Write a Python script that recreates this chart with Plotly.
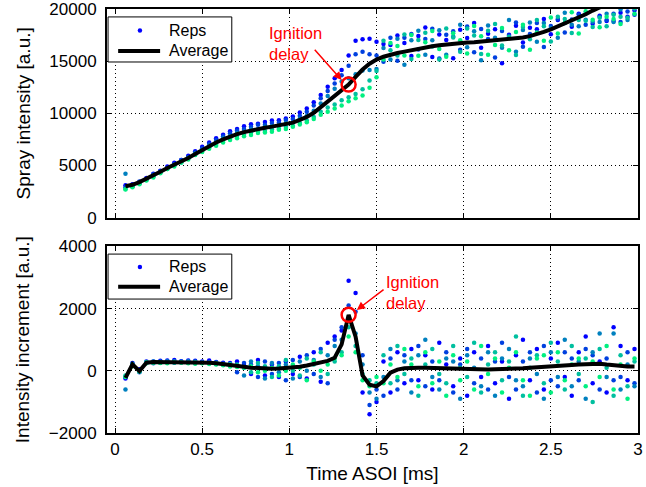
import numpy as np
import plotly.graph_objects as go

# sample times [ms]
time_ms = np.round(0.06 + 0.04 * np.arange(74), 2)

# top panel: spray intensity [a.u.]
spray_avg = [3000, 3150, 3400, 3700, 4050, 4400, 4750, 5050, 5380, 5720, 6100, 6490, 6850, 7200, 7500,
             7780, 8000, 8200, 8360, 8500, 8610, 8720, 8830, 8950, 9100, 9370, 9650, 10050, 10600, 11200,
             11700, 12200, 12750, 13500, 14200, 14750, 15150, 15420, 15620, 15780, 15910, 16050, 16200, 16330,
             16430, 16520, 16600, 16670, 16730, 16780, 16820, 16870, 16920, 16970, 17020, 17080, 17160, 17260,
             17400, 17580, 17800, 18050, 18320, 18600, 18900, 19200, 19500, 19850, 20150, 20450, 20750, 21050,
             21350, 21650]
spray_rep1 = [3100, 3200, 3400, 3800, 4200, 4500, 4900, 5250, 5530, 5920, 6350, 6790, 7200, 7600, 7950,
              8280, 8500, 8750, 8960, 9000, 9160, 9320, 9330, 9500, 9700, 10070, 10450, 11050, 11750, 12550,
              13350, 14150, 15550, 16950, 17100, 17150, 16850, 16650, 16550, 17450, 16750, 15500, 17420, 18220,
              15400, 17560, 17020, 15270, 18000, 17230, 18660, 16290, 17620, 18050, 14790, 17540, 18400, 16780,
              18200, 18050, 19050, 17580, 18950, 18650, 18300, 19550, 19580, 18580, 19350, 18850, 18850, 19650,
              19250, 19850]
spray_rep2 = [2900, 3150, 3450, 3650, 4150, 4450, 4750, 5150, 5530, 5820, 6250, 6640, 7050, 7450, 7800,
              8080, 8350, 8500, 8710, 8900, 8910, 9070, 9130, 9350, 9450, 9770, 10150, 10750, 11450, 12150,
              12850, 13650, 14550, 15650, 15900, 15650, 15550, 14950, 17250, 15050, 17250, 17600, 16120, 17120,
              18100, 15260, 17520, 17870, 16100, 18330, 15860, 18090, 17120, 15350, 17890, 17440, 18700, 16380,
              17600, 18650, 16350, 18380, 19050, 17750, 19000, 19450, 18480, 20180, 19250, 18950, 19550, 18750,
              19750, 19450]
spray_rep3 = [4200, 3000, 3300, 3650, 4050, 4300, 4700, 5050, 5330, 5720, 6150, 6490, 6900, 7200, 7600,
              7830, 8100, 8250, 8460, 8500, 8710, 8770, 8830, 9050, 9150, 9470, 9750, 10250, 10950, 11650,
              12350, 13050, 13350, 13750, 14100, 14150, 14250, 16250, 15150, 17150, 14650, 17000, 17920, 15620,
              17000, 17960, 15620, 17370, 18500, 16330, 17860, 15090, 18420, 17250, 16290, 18940, 15900, 17980,
              18700, 16850, 18650, 18180, 17250, 19650, 18500, 18350, 18980, 18780, 18750, 19550, 18750, 19950,
              18950, 20350]
spray_rep4 = [2750, 2950, 3250, 3600, 3950, 4350, 4650, 5000, 5280, 5670, 6050, 6390, 6750, 7050, 7400,
              7580, 7850, 7950, 8160, 8250, 8310, 8470, 8530, 8700, 8800, 9070, 9300, 9650, 10150, 10550,
              10850, 11250, 11550, 11850, 12300, 13150, 14050, 16950, 16050, 15550, 17550, 15200, 17020, 17720,
              16400, 15160, 18120, 17270, 15900, 18130, 17460, 15690, 17920, 18550, 16490, 17340, 15600, 18280,
              17100, 18950, 18350, 16880, 19250, 19050, 17700, 18950, 18880, 18280, 19150, 18350, 19450, 19250,
              19150, 20050]
spray_rep5 = [2700, 2900, 3200, 3550, 3850, 4250, 4650, 4900, 5280, 5570, 6000, 6290, 6600, 6900, 7200,
              7430, 7600, 7800, 7910, 8100, 8160, 8220, 8430, 8500, 8700, 8920, 9150, 9450, 9850, 10150,
              10450, 10750, 11150, 11450, 11700, 12450, 13450, 15150, 16750, 16450, 15550, 17500, 15520, 16820,
              17900, 16160, 15420, 17670, 17000, 15730, 18360, 17390, 15620, 16550, 18190, 16040, 17800, 18480,
              16100, 17750, 16950, 19180, 17650, 18650, 19700, 17650, 19780, 18980, 18250, 19250, 19050, 18550,
              20250, 19550]

# bottom panel: intensity increment [a.u.]
inc_avg = [-230, 210, -10, 260, 280, 280, 290, 290, 290, 290, 280, 270, 260, 240, 220,
           190, 160, 130, 100, 80, 70, 70, 75, 85, 100, 130, 170, 210, 260, 320,
           420, 850, 1800, 1100, -150, -450, -500, -330, -60, 40, 80, 100, 100, 100,
           90, 80, 70, 60, 50, 40, 40, 40, 40, 50, 50, 60, 70, 80,
           100, 120, 140, 160, 170, 180, 190, 200, 210, 220, 230, 200, 170, 150,
           140, 140]
inc_rep1 = [-250, 250, 50, 300, 300, 320, 330, 350, 310, 330, 320, 300, 330, 280, 260,
            250, 300, 180, -100, 350, -150, 200, -200, 300, -100, 450, -250, 600, -350, 900,
            1100, 1300, 2900, 2500, -700, -1400, -1000, 300, -700, 600, -400, 700, -300, 500,
            -600, 900, 200, -500, 400, -800, 600, -200, 800, -400, 300, -900, 500, 1000,
            -300, 700, -600, 400, 900, -200, -800, 600, 1100, -400, 300, -700, 1400, 800,
            -300, 700]
inc_rep2 = [-200, 180, -50, 250, 240, 270, 280, 260, 300, 270, 250, 280, 240, 230, 200,
            170, -50, 250, 200, -200, 300, -100, 250, -300, 350, -200, 500, -100, 700, -400,
            1000, 1400, 2100, 1900, 500, -1100, -600, -800, 400, -600, 500, -300, 800, -500,
            300, -300, 600, -700, 200, 700, -400, 400, -600, 300, 900, -200, -600, 300,
            600, -700, 800, -300, -500, 600, 400, -300, 700, 500, -600, 400, -300, -200,
            600, -400]
inc_rep3 = [-600, 230, -30, 270, 300, 260, 310, 280, 270, 310, 260, 250, 270, 220, 230,
            200, 150, -150, 300, 150, -250, 250, -50, 200, -250, 300, 0, 350, -200, 500,
            800, 1000, 1700, 1200, 200, -700, -900, -200, 700, -300, 300, -700, 500, 1000,
            -200, -600, 400, 300, -900, 500, 100, -500, 600, -800, 400, 700, -300, -500,
            400, -100, -900, 600, -200, 1000, -500, 300, -900, 600, 1200, -200, 1200, -600,
            200, -500]
inc_rep4 = [-150, 200, 0, 280, 270, 290, 260, 300, 280, 260, 290, 260, 250, 260, 200,
            220, 200, 100, -50, 250, 150, -200, 150, 350, 0, -150, 400, 200, 600, -100,
            300, 600, 1400, 800, -100, -300, -400, 500, -400, 800, -100, 400, -800, 200,
            700, -100, -400, 800, 100, -200, 900, -700, 200, 600, -300, 300, 1100, -800,
            100, 500, -400, 900, 300, -600, 800, -100, 400, -1000, 700, 100, -800, 500,
            -500, 300]
inc_rep5 = [-200, 150, -20, 240, 260, 250, 240, 270, 260, 240, 230, 240, 220, 200, 180,
            140, 120, 100, 150, -50, 0, 100, -150, 0, 200, 100, -300, 300, 0, 200,
            400, 500, 1100, 600, -300, -500, -200, -400, 200, -200, 700, 200, -500, 600,
            -400, 300, -800, 500, -300, 300, -600, 800, -100, 400, -700, 100, 600, -300,
            -800, 400, 500, -700, 600, -300, 200, 400, -500, 300, -200, 800, -600, 200,
            -900, 400]

ignition_time = 1.34
ignition_spray = 12750
ignition_inc = 1800

rep_colors = ['#0000ff', '#0040df', '#0080bf', '#00bf9f', '#00f080']
font = 'Liberation Sans, Arial, sans-serif'

fig = go.Figure()

spray_reps = [spray_rep1, spray_rep2, spray_rep3, spray_rep4, spray_rep5]
inc_reps = [inc_rep1, inc_rep2, inc_rep3, inc_rep4, inc_rep5]

for reps, col in zip(spray_reps, rep_colors):
    fig.add_trace(go.Scatter(x=time_ms, y=reps, mode='markers', name='Reps',
                             marker=dict(color=col, size=4.5), xaxis='x', yaxis='y'))
fig.add_trace(go.Scatter(x=time_ms, y=spray_avg, mode='lines', name='Average',
                         line=dict(color='black', width=4), xaxis='x', yaxis='y'))
fig.add_trace(go.Scatter(x=[ignition_time], y=[ignition_spray], mode='markers',
                         marker=dict(symbol='circle-open', size=14, color='red', line=dict(width=2.5)),
                         xaxis='x', yaxis='y'))

for reps, col in zip(inc_reps, rep_colors):
    fig.add_trace(go.Scatter(x=time_ms, y=reps, mode='markers', name='Reps',
                             marker=dict(color=col, size=4.5), xaxis='x2', yaxis='y2'))
fig.add_trace(go.Scatter(x=time_ms, y=inc_avg, mode='lines', name='Average',
                         line=dict(color='black', width=4), xaxis='x2', yaxis='y2'))
fig.add_trace(go.Scatter(x=[ignition_time], y=[ignition_inc], mode='markers',
                         marker=dict(symbol='circle-open', size=14, color='red', line=dict(width=2.5)),
                         xaxis='x2', yaxis='y2'))

axis_style = dict(showline=True, linecolor='black', linewidth=2, mirror='ticks',
                  ticks='inside', ticklen=5, tickcolor='black', tickwidth=1,
                  showgrid=True, gridcolor='black', gridwidth=1, griddash='1px,3px',
                  zeroline=False, automargin=False, ticklabeloverflow='allow',
                  tickfont=dict(size=17, color='black', family=font))


# hand-drawn MATLAB-style legend box for one panel
def legend_items(xd, yd, y_box, y_reps, y_avg, dot_h):
    shapes = [
        dict(type='rect', xref=xd, yref=yd, x0=0.002, x1=0.235, y0=y_box[0], y1=y_box[1],
             line=dict(color='black', width=1), fillcolor='white', layer='above'),
        dict(type='circle', xref=xd, yref=yd, x0=0.062 - 0.0042, x1=0.062 + 0.0042,
             y0=y_reps - dot_h, y1=y_reps + dot_h, fillcolor=rep_colors[0],
             line=dict(width=0), layer='above'),
        dict(type='line', xref=xd, yref=yd, x0=0.021, x1=0.1, y0=y_avg, y1=y_avg,
             line=dict(color='black', width=4), layer='above'),
    ]
    notes = [
        dict(x=0.113, y=y_reps, xref=xd, yref=yd, text='Reps', showarrow=False,
             xanchor='left', yanchor='middle', font=dict(size=16, color='black')),
        dict(x=0.113, y=y_avg, xref=xd, yref=yd, text='Average', showarrow=False,
             xanchor='left', yanchor='middle', font=dict(size=16, color='black')),
    ]
    return shapes, notes


s1, a1 = legend_items('x domain', 'y domain', (0.746, 0.962), 0.897, 0.799, 0.0105)
s2, a2 = legend_items('x2 domain', 'y2 domain', (0.718, 0.959), 0.890, 0.784, 0.0118)

red_notes = [
    dict(x=0.872, y=16740, xref='x', yref='y', text='Ignition<br>delay', showarrow=False,
         xanchor='left', yanchor='middle', align='left', font=dict(size=16.5, color='red')),
    dict(x=1.30, y=13190, ax=1.138, ay=16230, xref='x', yref='y', axref='x', ayref='y',
         text='', showarrow=True, arrowhead=2, arrowsize=1.1, arrowwidth=1.5, arrowcolor='red'),
    dict(x=1.543, y=2520, xref='x2', yref='y2', text='Ignition<br>delay', showarrow=False,
         xanchor='left', yanchor='middle', align='left', font=dict(size=16.5, color='red')),
    dict(x=1.387, y=1955, ax=1.549, ay=2650, xref='x2', yref='y2', axref='x2', ayref='y2',
         text='', showarrow=True, arrowhead=2, arrowsize=1.1, arrowwidth=1.5, arrowcolor='red'),
]

fig.update_layout(
    width=646, height=487,
    margin=dict(l=107, r=8, t=9, b=54),
    plot_bgcolor='white', paper_bgcolor='white',
    font=dict(family=font, color='black'),
    showlegend=False,
    xaxis=dict(axis_style, range=[-0.046, 3], dtick=0.5, showticklabels=False, anchor='y'),
    yaxis=dict(axis_style, range=[0, 20000], dtick=5000, tickformat='d', domain=[0.508, 1],
               anchor='x', ticklabelstandoff=5,
               title=dict(text='Spray intensity [a.u.]', font=dict(size=19), standoff=14)),
    xaxis2=dict(axis_style, range=[-0.046, 3], dtick=0.5, anchor='y2',
                title=dict(text='Time ASOI [ms]', font=dict(size=19), standoff=8)),
    yaxis2=dict(axis_style, range=[-2000, 4000], dtick=2000, tickformat='d', domain=[0, 0.44],
                anchor='x2', ticklabelstandoff=5,
                title=dict(text='Intensity increment [a.u.]', font=dict(size=19), standoff=14)),
    shapes=s1 + s2,
    annotations=a1 + a2 + red_notes,
)

fig.write_html("out.html", config={'displayModeBar': False},
               post_script="document.body.style.margin='0px';")
